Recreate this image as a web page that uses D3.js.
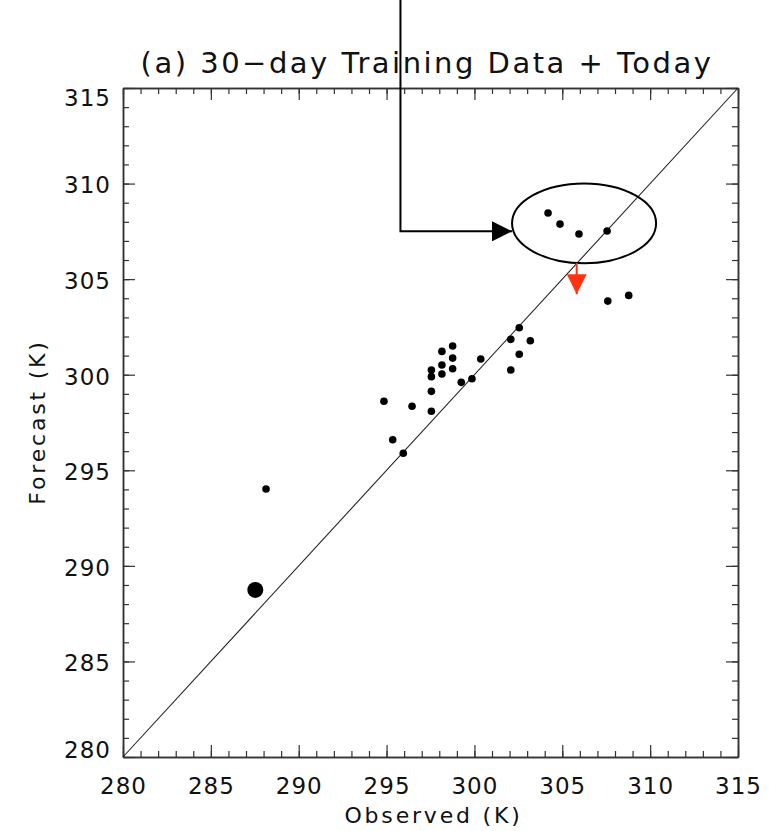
<!DOCTYPE html>
<html>
  <head>
    <title>30-day Training Data + Today</title>
    <script src="https://d3js.org/d3.v7.min.js"></script>
    <style>
      body { margin: 0; background: #fff; }
      text { font-family: "DejaVu Sans", sans-serif; fill: #111; }
    </style>
  </head>
  <body>
    <svg width="779" height="831"></svg>

    <script type="text/javascript">
      // training days: observed vs forecast (K)
      var observed = [304.19, 304.87, 305.95, 307.55, 307.59, 308.78,
        302.55, 302.07, 303.18, 298.15, 298.76, 298.76, 298.15, 300.36,
        298.76, 297.55, 297.55, 298.15, 302.55, 302.07, 299.25, 299.86,
        297.55, 294.85, 296.45, 297.55, 295.35, 295.95, 288.14];
      var forecast = [308.46, 307.88, 307.36, 307.52, 303.85, 304.15,
        302.46, 301.85, 301.78, 301.22, 301.50, 300.87, 300.51, 300.82,
        300.31, 300.25, 299.90, 300.04, 301.07, 300.25, 299.60, 299.79,
        299.13, 298.61, 298.35, 298.09, 296.60, 295.89, 294.02];
      var today = [287.53, 288.74];

      var domain = [280, 315];
      var majorTicks = [280, 285, 290, 295, 300, 305, 310, 315];
      var minorTicks = d3.range(280, 316, 1);

      var titleText = "(a) 30\u2212day Training Data + Today";
      var xLabel = "Observed (K)";
      var yLabel = "Forecast (K)";

      // annotation (data units)
      var ellipseCenter = [306.24, 307.92];
      var ellipseRadii = [4.10, 2.09];
      var blackArrow = [[295.79, 320], [295.79, 307.5], [302.14, 307.5]];
      var redArrow = [[305.82, 305.84], [305.82, 304.21]];

      var plotLeft = 123, plotRight = 738, plotTop = 88, plotBottom = 757;

      var svg = d3.select("svg");

      var x = d3.scaleLinear().domain(domain).range([plotLeft, plotRight]);
      var y = d3.scaleLinear().domain(domain).range([plotBottom, plotTop]);

      var fontSize = 23;

      function styleAxis(g) {
        g.select(".domain").attr("stroke", "#333").attr("stroke-width", 1.5);
        g.selectAll(".tick line").attr("stroke", "#333").attr("stroke-width", 1.2);
        g.selectAll("text")
          .style("font-size", fontSize + "px")
          .style("font-family", "DejaVu Sans, sans-serif")
          .style("letter-spacing", "1px")
          .attr("fill", "#1a1a1a");
      }

      // minor ticks on all four sides
      var sides = [
        [d3.axisBottom(x), "translate(0," + plotBottom + ")"],
        [d3.axisTop(x), "translate(0," + plotTop + ")"],
        [d3.axisLeft(y), "translate(" + plotLeft + ",0)"],
        [d3.axisRight(y), "translate(" + plotRight + ",0)"]
      ];
      sides.forEach(function (s) {
        svg.append("g")
          .attr("transform", s[1])
          .call(s[0].tickValues(minorTicks).tickSize(-6).tickSizeOuter(0).tickFormat(""))
          .call(styleAxis);
      });

      svg.append("g")
        .attr("transform", "translate(0," + plotBottom + ")")
        .call(d3.axisBottom(x).tickValues(majorTicks).tickSize(-12).tickSizeOuter(0).tickPadding(21).tickFormat(d3.format("d")))
        .call(styleAxis);
      svg.append("g")
        .attr("transform", "translate(0," + plotTop + ")")
        .call(d3.axisTop(x).tickValues(majorTicks).tickSize(-12).tickSizeOuter(0).tickFormat(""))
        .call(styleAxis);
      svg.append("g")
        .attr("transform", "translate(" + plotLeft + ",0)")
        .call(d3.axisLeft(y).tickValues(majorTicks).tickSize(-12).tickSizeOuter(0).tickPadding(12).tickFormat(d3.format("d")))
        .call(styleAxis)
        .selectAll("text")
        // end labels sit inside the frame, like the original
        .attr("y", function (d) { return d === domain[1] ? 10 : d === domain[0] ? -7 : 2; });
      svg.append("g")
        .attr("transform", "translate(" + plotRight + ",0)")
        .call(d3.axisRight(y).tickValues(majorTicks).tickSize(-12).tickSizeOuter(0).tickFormat(""))
        .call(styleAxis);

      // 1:1 line
      svg.append("line")
        .attr("x1", x(domain[0])).attr("y1", y(domain[0]))
        .attr("x2", x(domain[1])).attr("y2", y(domain[1]))
        .attr("stroke", "#222").attr("stroke-width", 1.1);

      // training points
      svg.append("g").selectAll("circle")
        .data(observed)
        .enter()
        .append("circle")
        .attr("cx", function (d) { return x(d); })
        .attr("cy", function (d, i) { return y(forecast[i]); })
        .attr("r", 3.8)
        .attr("fill", "#000");

      // today
      svg.append("circle")
        .attr("cx", x(today[0]))
        .attr("cy", y(today[1]))
        .attr("r", 8)
        .attr("fill", "#000");

      // ellipse around the outlier cluster
      svg.append("ellipse")
        .attr("cx", x(ellipseCenter[0]))
        .attr("cy", y(ellipseCenter[1]))
        .attr("rx", x(ellipseCenter[0] + ellipseRadii[0]) - x(ellipseCenter[0]))
        .attr("ry", y(ellipseCenter[1]) - y(ellipseCenter[1] + ellipseRadii[1]))
        .attr("fill", "none").attr("stroke", "#000").attr("stroke-width", 2);

      // arrow heads
      var defs = svg.append("defs");
      defs.append("marker")
        .attr("id", "headBlack")
        .attr("viewBox", "0 0 10 10")
        .attr("refX", 10).attr("refY", 5)
        .attr("markerUnits", "userSpaceOnUse")
        .attr("markerWidth", 21).attr("markerHeight", 20)
        .attr("orient", "auto")
        .append("path").attr("d", "M0,0L10,5L0,10Z").attr("fill", "#000");
      defs.append("marker")
        .attr("id", "headRed")
        .attr("viewBox", "0 0 10 10")
        .attr("refX", 10).attr("refY", 5)
        .attr("markerUnits", "userSpaceOnUse")
        .attr("markerWidth", 20).attr("markerHeight", 20)
        .attr("orient", "auto")
        .append("path").attr("d", "M0,0L10,5L0,10Z").attr("fill", "#ff3311");

      var line = d3.line()
        .x(function (d) { return x(d[0]); })
        .y(function (d) { return y(d[1]); });

      svg.append("path")
        .attr("d", line(blackArrow))
        .attr("fill", "none").attr("stroke", "#000").attr("stroke-width", 2)
        .attr("marker-end", "url(#headBlack)");

      svg.append("path")
        .attr("d", line(redArrow))
        .attr("fill", "none").attr("stroke", "#ff3311").attr("stroke-width", 2)
        .attr("marker-end", "url(#headRed)");

      // title and axis labels
      svg.append("text")
        .attr("x", 427).attr("y", 73)
        .attr("text-anchor", "middle")
        .style("font-size", "29px")
        .style("letter-spacing", "2.5px")
        .text(titleText);

      svg.append("text")
        .attr("x", (plotLeft + plotRight) / 2 + 3).attr("y", 823)
        .attr("text-anchor", "middle")
        .style("font-size", "22px")
        .style("letter-spacing", "2.8px")
        .text(xLabel);

      svg.append("text")
        .attr("transform", "translate(45," + 422 + ") rotate(-90)")
        .attr("text-anchor", "middle")
        .style("font-size", "22px")
        .style("letter-spacing", "2.8px")
        .text(yLabel);
    </script>
  </body>
</html>
